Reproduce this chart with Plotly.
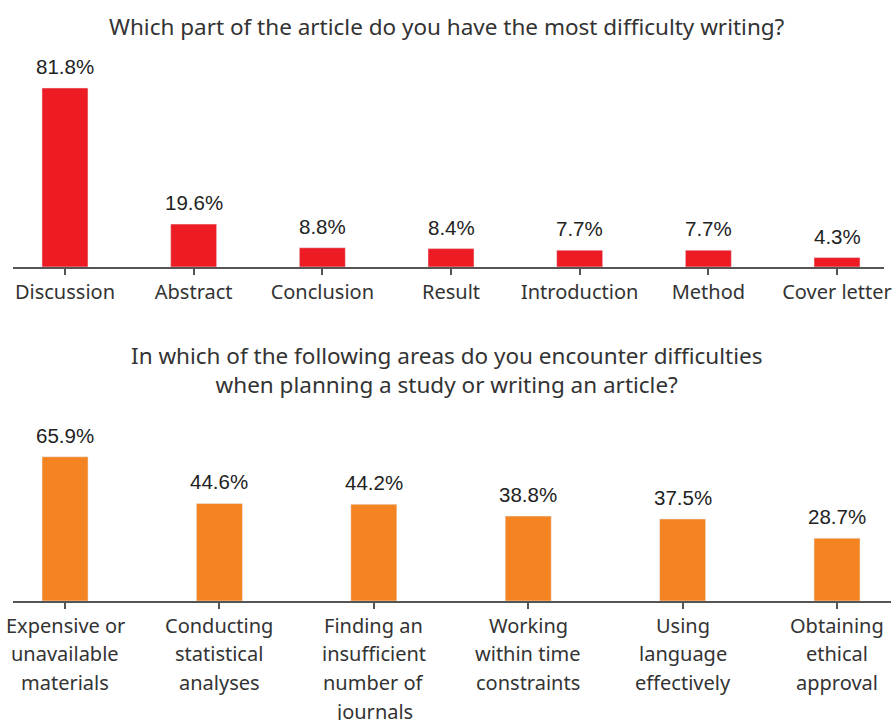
import plotly.graph_objects as go

W, H = 893, 720

# Survey question 1: article sections
parts = ["Discussion", "Abstract", "Conclusion", "Result", "Introduction", "Method", "Cover letter"]
parts_pct = [81.8, 19.6, 8.8, 8.4, 7.7, 7.7, 4.3]

# Survey question 2: difficult areas (one list entry per label line)
areas = [["Expensive or", "unavailable", "materials"],
         ["Conducting", "statistical", "analyses"],
         ["Finding an", "insufficient", "number of", "journals"],
         ["Working", "within time", "constraints"],
         ["Using", "language", "effectively"],
         ["Obtaining", "ethical", "approval"]]
areas_pct = [65.9, 44.6, 44.2, 38.8, 37.5, 28.7]

title_top = "Which part of the article do you have the most difficulty writing?"
title_bottom = "In which of the following areas do you encounter difficulties<br>when planning a study or writing an article?"

RED = "#ED1C24"
ORANGE = "#F48422"
TXT = "#333333"
LABEL_FONT = "Noto Sans"
VALUE_FONT = "Liberation Sans"


def px_x(p):
    return p / W


def px_y(p):
    return (H - p) / H


PX_PER_PCT = 2.188

fig = go.Figure()

x1 = list(range(len(parts)))
x2 = list(range(len(areas)))

fig.add_trace(go.Bar(x=x1, y=parts_pct, marker_color=RED, width=0.3575,
                     xaxis="x", yaxis="y", hoverinfo="skip"))
fig.add_trace(go.Bar(x=x2, y=areas_pct, marker_color=ORANGE, width=0.298,
                     xaxis="x2", yaxis="y2", hoverinfo="skip"))

annotations = []
for i, v in enumerate(parts_pct):
    annotations.append(dict(x=i, y=v, xref="x", yref="y", text=f"{v}%", showarrow=False,
                            yanchor="bottom", yshift=8,
                            font=dict(family=VALUE_FONT, size=20.5, color="#222")))
for i, v in enumerate(areas_pct):
    annotations.append(dict(x=i, y=v, xref="x2", yref="y2", text=f"{v}%", showarrow=False,
                            yanchor="bottom", yshift=8,
                            font=dict(family=VALUE_FONT, size=20.5, color="#222")))

# Category labels for the lower chart, one line each with wider leading
LINE_GAP = 28.8
for i, lines in enumerate(areas):
    for k, line in enumerate(lines):
        annotations.append(dict(x=i, y=px_y(625 + k * LINE_GAP), xref="x2", yref="paper",
                                text=line, showarrow=False, xanchor="center", yanchor="middle",
                                font=dict(family=LABEL_FONT, size=20, color=TXT)))

annotations.append(dict(x=0.5, y=px_y(27), xref="paper", yref="paper", text=title_top,
                        showarrow=False, xanchor="center", yanchor="middle",
                        font=dict(family=LABEL_FONT, size=22.5, color=TXT)))
annotations.append(dict(x=0.5, y=px_y(370), xref="paper", yref="paper", text=title_bottom,
                        showarrow=False, xanchor="center", yanchor="middle",
                        font=dict(family=LABEL_FONT, size=22.5, color=TXT)))

axis_common = dict(showgrid=False, zeroline=False, showline=True, linecolor="#555",
                   linewidth=1.5, ticks="outside", ticklen=6, tickcolor="#555", tickwidth=1.5,
                   tickfont=dict(family=LABEL_FONT, size=20, color=TXT), fixedrange=True,
                   automargin=False)

top_base, top_top = 267, 60
bot_base, bot_top = 601, 420

fig.update_layout(
    width=W, height=H,
    margin=dict(l=0, r=0, t=0, b=0, pad=0),
    paper_bgcolor="white", plot_bgcolor="white",
    showlegend=False,
    annotations=annotations,
    xaxis=dict(axis_common, domain=[px_x(13), px_x(884)], range=[-0.404, (884 - 65) / 128.67],
               tickvals=x1, ticktext=parts, anchor="y"),
    yaxis=dict(domain=[px_y(top_base), px_y(top_top)], range=[0, (top_base - top_top) / PX_PER_PCT],
               visible=False, fixedrange=True, anchor="x"),
    xaxis2=dict(axis_common, domain=[px_x(13), px_x(891)], range=[-0.337, (891 - 65) / 154.4],
                tickvals=x2, showticklabels=False, anchor="y2"),
    yaxis2=dict(domain=[px_y(bot_base), px_y(bot_top)], range=[0, (bot_base - bot_top) / PX_PER_PCT],
                visible=False, fixedrange=True, anchor="x2"),
)

fig.write_html("out.html")
